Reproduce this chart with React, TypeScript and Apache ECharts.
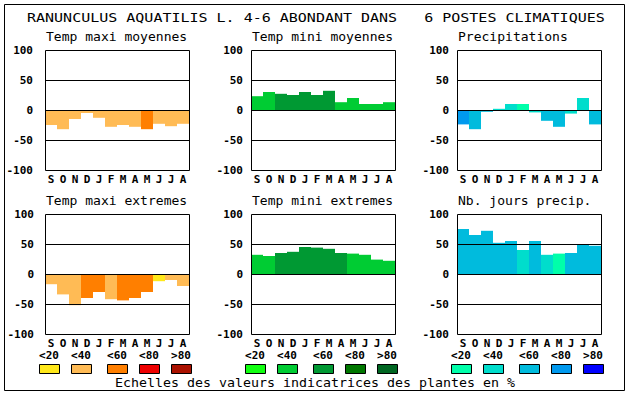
import React, { useEffect, useRef } from "react";
import * as echarts from "echarts";

const mainTitle = "RANUNCULUS AQUATILIS L. 4-6 ABONDANT DANS   6 POSTES CLIMATIQUES";
const footer = "Echelles des valeurs indicatrices des plantes en %";
const months = ["S", "O", "N", "D", "J", "F", "M", "A", "M", "J", "J", "A"];
const classLabels = ["<20", "<40", "<60", "<80", ">80"];
const panelTitles = [
  "Temp maxi moyennes",
  "Temp mini moyennes",
  "Precipitations",
  "Temp maxi extremes",
  "Temp mini extremes",
  "Nb. jours precip.",
];

const warm = ["#FFE81A", "#FFBB55", "#FF7F00", "#EE0000", "#AA1100"];
const green = ["#11FF11", "#00CC33", "#009933", "#007700", "#006622"];
const blue = ["#00FFAA", "#00DDCC", "#00BBDD", "#0099EE", "#0000FF"];

const tmaxMoy = [-25, -32, -15, -5, -13, -28, -25, -28, -32, -23, -27, -23];
const tmaxMoyCls = [1, 1, 1, 1, 1, 1, 1, 1, 2, 1, 1, 1];
const tminMoy = [23, 30, 27, 25, 30, 25, 32, 13, 20, 10, 10, 13];
const tminMoyCls = [1, 1, 2, 2, 2, 2, 2, 1, 1, 1, 1, 1];
const precip = [-24, -32, -3, 2, 10, 10, -4, -18, -28, -6, 20, -24];
const precipCls = [3, 2, 2, 1, 1, 0, 1, 2, 2, 1, 1, 2];
const tmaxExt = [-17, -34, -52, -40, -30, -42, -44, -40, -30, -12, -10, -20];
const tmaxExtCls = [1, 1, 1, 2, 2, 1, 2, 2, 2, 0, 1, 1];
const tminExt = [32, 30, 35, 37, 45, 44, 42, 35, 34, 32, 24, 22];
const tminExtCls = [1, 1, 2, 2, 2, 2, 2, 2, 1, 1, 1, 1];
const nbJours = [75, 65, 72, 52, 55, 40, 55, 32, 34, 35, 49, 47];
const nbJoursCls = [2, 2, 2, 2, 2, 1, 2, 1, 0, 2, 2, 2];

const MONO = "'DejaVu Sans Mono', monospace";

export default function App() {
  const ref = useRef<HTMLDivElement>(null);
  useEffect(() => {
    if (!ref.current) return;
    const chart = echarts.init(ref.current, undefined, { renderer: "svg" });
    const W = 144;
    const H = 120;
    const panels = [
      { values: tmaxMoy, cls: tmaxMoyCls, pal: warm, left: 45, top: 50, margin: 12 },
      { values: tminMoy, cls: tminMoyCls, pal: green, left: 251, top: 50, margin: 8 },
      { values: precip, cls: precipCls, pal: blue, left: 457, top: 50, margin: 8 },
      { values: tmaxExt, cls: tmaxExtCls, pal: warm, left: 45, top: 214, margin: 11 },
      { values: tminExt, cls: tminExtCls, pal: green, left: 251, top: 214, margin: 8 },
      { values: nbJours, cls: nbJoursCls, pal: blue, left: 457, top: 214, margin: 8 },
    ];

    const graphic: any[] = [];
    graphic.push({
      type: "rect",
      shape: { x: 4.5, y: 4.5, width: 620, height: 386 },
      style: { fill: "none", stroke: "#000", lineWidth: 1 },
      z: 100,
    });
    graphic.push({
      type: "text",
      x: 27,
      y: 18,
      scaleX: 1.25,
      style: {
        text: mainTitle,
        font: `12px ${MONO}`,
        fill: "#000",
        textVerticalAlign: "middle",
      },
      z: 100,
    });
    panels.forEach((p, i) => {
      graphic.push({
        type: "text",
        x: p.left + 1,
        y: p.top - 13,
        scaleX: 1.087,
        style: {
          text: panelTitles[i],
          font: `12px ${MONO}`,
          fill: "#000",
          textVerticalAlign: "middle",
        },
        z: 100,
      });
      graphic.push({
        type: "rect",
        shape: { x: p.left + 0.5, y: p.top + 0.5, width: W, height: H },
        style: { fill: "none", stroke: "#000", lineWidth: 1 },
        z: 100,
      });
    });
    const boxOffsets = [0, 32, 68, 100, 132];
    const groupStarts = [39, 245, 451];
    const pals = [warm, green, blue];
    groupStarts.forEach((g, gi) => {
      boxOffsets.forEach((o, k) => {
        graphic.push({
          type: "rect",
          shape: { x: g + o + 0.5, y: 364.5, width: 20, height: 9 },
          style: { fill: pals[gi][k], stroke: "#000", lineWidth: 1 },
          z: 100,
        });
        graphic.push({
          type: "text",
          x: g + o + 10,
          y: 355,
          style: {
            text: classLabels[k],
            font: `bold 11px ${MONO}`,
            fill: "#000",
            textAlign: "center",
            textVerticalAlign: "middle",
          },
          z: 100,
        });
      });
    });
    graphic.push({
      type: "text",
      x: 115,
      y: 383,
      scaleX: 1.108,
      style: {
        text: footer,
        font: `12px ${MONO}`,
        fill: "#000",
        textVerticalAlign: "middle",
      },
      z: 100,
    });

    const option: any = {
      animation: false,
      backgroundColor: "#fff",
      grid: panels.map((p) => ({ left: p.left, top: p.top, width: W, height: H, show: false })),
      xAxis: panels.map((p, i) => ({
        type: "category",
        gridIndex: i,
        data: months,
        axisTick: { show: false },
        axisLine: { show: false },
        splitLine: { show: false },
        axisLabel: {
          interval: 0,
          margin: 4,
          color: "#000",
          fontFamily: MONO,
          fontWeight: "bold",
          fontSize: 11,
        },
      })),
      yAxis: panels.map((p, i) => ({
        type: "value",
        gridIndex: i,
        min: -100,
        max: 100,
        interval: 50,
        axisTick: { show: false },
        axisLine: { show: false },
        splitLine: { show: false },
        axisLabel: {
          margin: p.margin,
          color: "#000",
          fontFamily: MONO,
          fontWeight: "bold",
          fontSize: 11,
        },
      })),
      series: panels.map((p, i) => ({
        type: "bar",
        xAxisIndex: i,
        yAxisIndex: i,
        barCategoryGap: 0,
        barWidth: "100%",
        data: p.values.map((v, k) => ({
          value: v,
          itemStyle: { color: p.pal[p.cls[k]] },
        })),
        markLine: {
          silent: true,
          symbol: "none",
          label: { show: false },
          lineStyle: { color: "#000", width: 1, type: "solid" },
          data: [{ yAxis: 50 }, { yAxis: 0 }, { yAxis: -50 }],
          z: 10,
        },
      })),
      graphic,
    };
    chart.setOption(option);
    return () => chart.dispose();
  }, []);
  return (
    <div
      ref={ref}
      style={{ position: "absolute", left: 0, top: 0, width: 630, height: 394 }}
    />
  );
}
